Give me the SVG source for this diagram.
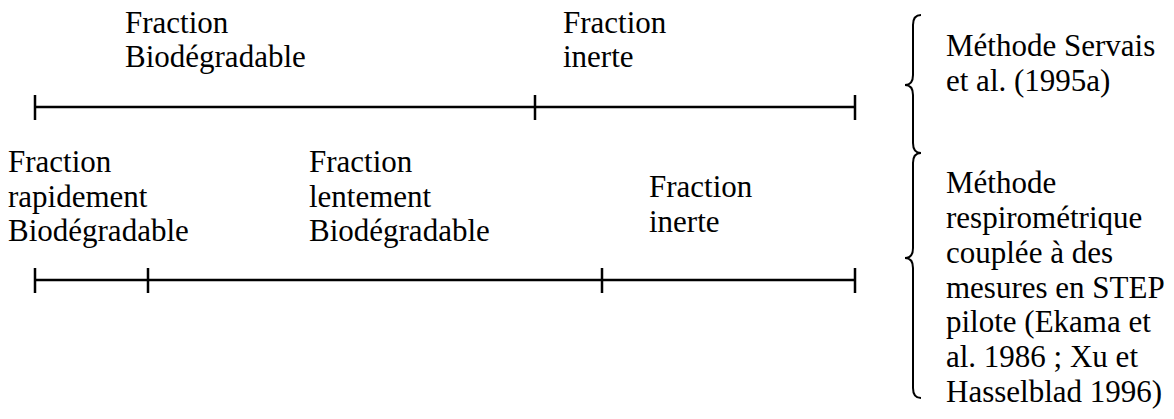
<svg xmlns="http://www.w3.org/2000/svg" width="1174" height="419" viewBox="0 0 1174 419">
<style>
text{font-family:"Liberation Serif","Times New Roman",serif;font-size:31px;fill:#000}
.ln{stroke:#000;stroke-width:2.5;fill:none}
.br{stroke:#000;stroke-width:2;fill:none}
</style>
<rect width="1174" height="419" fill="#fff"/>
<g id="labels-top">
<text x="125" y="33">Fraction</text>
<text x="125" y="67">Biodégradable</text>
<text x="563" y="33">Fraction</text>
<text x="563" y="67">inerte</text>
</g>
<g id="labels-bottom">
<text x="8" y="172">Fraction</text>
<text x="8" y="207">rapidement</text>
<text x="8" y="241">Biodégradable</text>
<text x="309" y="172">Fraction</text>
<text x="309" y="207">lentement</text>
<text x="309" y="241">Biodégradable</text>
<text x="649" y="197">Fraction</text>
<text x="649" y="232">inerte</text>
</g>
<g id="scale-top">
<path class="ln" d="M35,107 H855 M35,95 V120 M535,95 V120 M855,95 V120"/>
</g>
<g id="scale-bottom">
<path class="ln" d="M35,280 H855 M35,268 V293 M148,268 V293 M602,268 V293 M855,268 V293"/>
</g>
<g id="brace-servais">
<path class="br" d="M921,15 Q913,15 913,25 L913,75 Q913,85 905,85 Q913,85 913,95 L913,143 Q913,153 921,153"/>
<text x="946" y="56">Méthode Servais</text>
<text x="946" y="91">et al. (1995a)</text>
</g>
<g id="brace-respiro">
<path class="br" d="M921,153 Q913,153 913,163 L913,248 Q913,258 905,258 Q913,258 913,268 L913,388 Q913,398 921,398"/>
<text x="946" y="193">Méthode</text>
<text x="946" y="228">respirométrique</text>
<text x="946" y="263">couplée à des</text>
<text x="946" y="298">mesures en STEP</text>
<text x="946" y="332">pilote (Ekama et</text>
<text x="946" y="367">al. 1986 ; Xu et</text>
<text x="946" y="402">Hasselblad 1996)</text>
</g>
</svg>
